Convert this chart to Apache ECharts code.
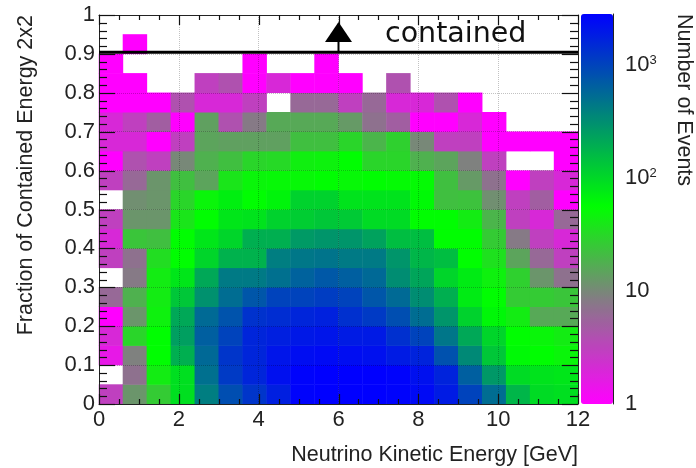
<!DOCTYPE html>
<html><head><meta charset="utf-8">
<style>html,body{margin:0;padding:0;background:#fff}#c{width:696px;height:468px}</style>
<script src="https://cdn.jsdelivr.net/npm/echarts@6/dist/echarts.min.js"></script>
</head><body><div id="c"></div>
<script>
const xBinWidth = 0.6, yBinWidth = 0.05;
// Event counts per x bin (20 bins of 0.6 GeV); 0 = empty. One row per fraction bin.
const row_00 = [3,12,26,90,400,850,1250,1750,2700,2800,2800,2800,2700,2400,1850,1000,520,170,95,90];
const row_05 = [0,7,42,90,500,1150,1600,2200,2700,2800,2800,2800,2700,2200,1650,650,270,95,85,80];
const row_10 = [1.5,9,55,190,560,1250,1600,2050,2300,2400,2300,2200,1850,1650,800,340,130,60,55,48];
const row_15 = [2,30,55,240,650,1000,1600,1750,1950,2050,1850,1900,1350,1000,460,210,105,55,48,42];
const row_20 = [1,12,45,210,550,780,1300,1400,1600,1700,1350,1150,850,520,280,110,62,42,16,16];
const row_25 = [6,18,42,130,300,520,750,1000,1000,1100,1000,750,550,320,190,75,55,26,26,24];
const row_30 = [0,8,42,80,210,430,430,500,620,720,650,560,320,220,105,75,45,28,12,7];
const row_35 = [3,7,34,55,105,180,180,400,450,470,430,430,280,170,150,55,36,15,6,3];
const row_40 = [2,24,22,55,80,105,190,190,260,280,280,230,150,150,55,55,26,8,3,2];
const row_45 = [3,12,12,38,55,80,85,110,120,130,125,95,95,55,55,42,19,3,2,6];
const row_50 = [0,11,12,30,48,70,55,65,110,110,85,85,85,60,22,23,11,3,5,1];
const row_55 = [3,6,12,22,15,38,48,50,50,55,50,55,52,52,22,13,7,1,3,2];
const row_60 = [1,4,3,10,18,22,30,32,44,46,55,30,30,18,15,9,3,0,0,1];
const row_65 = [2,2,1,3,15,14,14,14,22,22,30,19,28,10,3,3,1,1,1,1];
const row_70 = [2,3,5,1,14,4,8,16,16,16,13,7,5,1,1,2,1,0,0,0];
const row_75 = [1,1,1,4,2,2,3,0,6,6,3,6,2,2,4,1,0,0,0,0];
const row_80 = [1,1,0,0,3,4,1,2,1,1,1,0,4,0,0,0,0,0,0,0];
const row_85 = [1,0,0,0,0,0,1,0,0,1,0,0,0,0,0,0,0,0,0,0];
const row_90 = [0,1,0,0,0,0,0,0,0,0,0,0,0,0,0,0,0,0,0,0];
const row_95 = [0,0,0,0,0,0,0,0,0,0,0,0,0,0,0,0,0,0,0,0];
const rows = [row_00,row_05,row_10,row_15,row_20,row_25,row_30,row_35,row_40,row_45,row_50,row_55,row_60,row_65,row_70,row_75,row_80,row_85,row_90,row_95];
const colorMaxCount = 2800;
const stopLogs = [0, 0.95, 1.74, 3.45];
const stopRGB = [[255,0,255],[128,128,128],[0,255,0],[0,0,255]];
const containedCut = 0.904;
const arrowX = 6;
const arrowTip = 0.956;
const colorbarMajor = [1,10,100,1000];
const colorbarMinor = [2,3,4,5,6,7,8,9,20,30,40,50,60,70,80,90,200,300,400,500,600,700,800,900,2000];

const logMax = Math.log10(colorMaxCount);
function rampColor(v){
  let i = 0;
  while (i < stopLogs.length - 2 && v > stopLogs[i+1]) i++;
  const t = Math.min(1, (v - stopLogs[i]) / (stopLogs[i+1] - stopLogs[i]));
  const c = stopRGB[i].map((a,k) => Math.round(a + (stopRGB[i+1][k] - a) * t));
  return `rgb(${c[0]},${c[1]},${c[2]})`;
}
const ramp = [];
for (let i = 0; i <= 69; i++) ramp.push(rampColor(logMax * i / 69));

const xCats = row_00.map((_, i) => ((i + 0.5) * xBinWidth).toFixed(1));
const yCats = rows.map((_, i) => ((i + 0.5) * yBinWidth).toFixed(3));
const cells = [];
rows.forEach((r, j) => r.forEach((n, i) => { if (n > 0) cells.push([i, j, n, Math.log10(n)]); }));

// Inward tick marks on all four sides, placed through the axes' own scales.
const xTickData = [], yTickData = [];
for (let i = 0; i <= 24; i++) xTickData.push([i * 0.5, 0, i % 4 === 0 ? 10 : 5]);
for (let i = 0; i <= 50; i++) yTickData.push([0, i * 0.02, i % 5 === 0 ? 16 : 8]);
const barTickData = colorbarMajor.map(v => [1, v, 16]).concat(colorbarMinor.map(v => [1, v, 8]));
const tickStyle = {stroke: '#111', lineWidth: 1.2};
const snap = p => Math.round(p) + 0.5;
function tickLine(x1, y1, x2, y2){ return {type: 'line', shape: {x1, y1, x2, y2}, style: tickStyle, silent: true}; }
function renderXTick(params, api){
  if (typeof api.coord !== 'function') return null;
  const x = api.value(0), len = api.value(2);
  const b = api.coord([x, 0]), t = api.coord([x, 1]), px = snap(b[0]);
  return {type: 'group', children: [tickLine(px, b[1], px, b[1] - len), tickLine(px, t[1], px, t[1] + len)]};
}
function renderYTick(params, api){
  if (typeof api.coord !== 'function') return null;
  const y = api.value(1), len = api.value(2);
  const l = api.coord([0, y]), r = api.coord([12, y]), py = snap(l[1]);
  return {type: 'group', children: [tickLine(l[0], py, l[0] + len, py), tickLine(r[0], py, r[0] - len, py)]};
}
function renderBarTick(params, api){
  if (typeof api.coord !== 'function') return null;
  const p = api.coord([1, api.value(1)]), py = snap(p[1]);
  return tickLine(p[0], py, p[0] - api.value(2), py);
}

const F = 'Liberation Sans';
const G = {left: 99, top: 15, width: 479, height: 389, outerBoundsMode: 'none'};
const frame = {show: true, onZero: false, lineStyle: {color: '#222', width: 1}};
const grid = {show: true, lineStyle: {color: 'rgba(0,0,0,0.24)', type: 'dotted', width: 1}};

const chart = echarts.init(document.getElementById('c'), null, {renderer: 'canvas'});
chart.setOption({
  animation: false,
  backgroundColor: '#fff',
  grid: [Object.assign({}, G), Object.assign({}, G), {left: 581, top: 14, width: 32, height: 390, outerBoundsMode: 'none'}],
  xAxis: [
    {type: 'category', gridIndex: 0, data: xCats, show: false},
    {type: 'value', gridIndex: 1, min: 0, max: 12, interval: 2, z: 10, position: 'bottom',
     axisLine: frame, axisTick: {show: false}, splitLine: grid,
     axisLabel: {fontFamily: F, fontSize: 22, color: '#222', margin: 5},
     name: 'Neutrino Kinetic Energy [GeV]', nameLocation: 'end', nameGap: 0,
     nameTextStyle: {fontFamily: F, fontSize: 21.5, color: '#222', align: 'right', verticalAlign: 'top', padding: [40, 0, 0, 0]}},
    {type: 'value', gridIndex: 1, min: 0, max: 12, interval: 2, z: 10, position: 'top',
     axisLine: frame, axisTick: {show: false}, splitLine: {show: false}, axisLabel: {show: false}},
    {type: 'value', gridIndex: 2, min: 0, max: 1, show: false}
  ],
  yAxis: [
    {type: 'category', gridIndex: 0, data: yCats, show: false},
    {type: 'value', gridIndex: 1, min: 0, max: 1, interval: 0.1, z: 10, position: 'left',
     axisLine: frame, axisTick: {show: false}, splitLine: grid,
     axisLabel: {fontFamily: F, fontSize: 22, color: '#222', margin: 4},
     name: 'Fraction of Contained Energy 2x2', nameLocation: 'end', nameGap: 0, nameRotate: 90,
     nameTextStyle: {fontFamily: F, fontSize: 21.5, color: '#222', align: 'right', verticalAlign: 'bottom', padding: [0, 0, 62, 0]}},
    {type: 'value', gridIndex: 1, min: 0, max: 1, interval: 0.1, z: 10, position: 'right',
     axisLine: frame, axisTick: {show: false}, splitLine: {show: false}, axisLabel: {show: false}},
    {type: 'log', gridIndex: 2, logBase: 10, min: 1, max: colorMaxCount, z: 10, position: 'right',
     axisLine: frame, axisTick: {show: false}, splitLine: {show: false},
     axisLabel: {margin: 12, showMaxLabel: false, color: '#222', fontFamily: F, fontSize: 22,
       formatter: v => { const e = Math.round(Math.log10(v)); return e <= 1 ? String(v) : '10{s|' + e + '}'; },
       rich: {s: {fontFamily: F, fontSize: 13, color: '#222', verticalAlign: 'top', padding: [0, 0, 8, 0]}}},
     name: 'Number of Events', nameLocation: 'end', nameGap: 0, nameRotate: -90,
     nameTextStyle: {fontFamily: F, fontSize: 21.5, color: '#222', align: 'left', verticalAlign: 'bottom', padding: [0, 0, 60, 0]}}
  ],
  visualMap: {
    type: 'continuous', seriesIndex: 0, dimension: 3, min: 0, max: logMax,
    inRange: {color: ramp}, calculable: false, hoverLink: false, realtime: false,
    left: 581, top: 14, padding: 0, itemWidth: 32, itemHeight: 390, orient: 'vertical', text: null
  },
  series: [
    {type: 'heatmap', xAxisIndex: 0, yAxisIndex: 0, data: cells, progressive: 0, z: 2},
    {type: 'line', xAxisIndex: 1, yAxisIndex: 1, data: [[0, containedCut], [12, containedCut]], symbol: 'none', z: 20, lineStyle: {color: '#000', width: 3}},
    {type: 'line', xAxisIndex: 1, yAxisIndex: 1, data: [[arrowX, containedCut], [arrowX, arrowTip]], symbol: 'none', z: 20, lineStyle: {color: '#000', width: 2}},
    {type: 'scatter', xAxisIndex: 1, yAxisIndex: 1, data: [[arrowX, arrowTip]], symbol: 'triangle', symbolSize: [27, 20], z: 21, itemStyle: {color: '#000', opacity: 1}},
    {type: 'custom', coordinateSystem: 'cartesian2d', xAxisIndex: 1, yAxisIndex: 1, encode: {x: 0, y: 1}, data: xTickData, renderItem: renderXTick, z: 15, silent: true},
    {type: 'custom', coordinateSystem: 'cartesian2d', xAxisIndex: 1, yAxisIndex: 1, encode: {x: 0, y: 1}, data: yTickData, renderItem: renderYTick, z: 15, silent: true},
    {type: 'custom', coordinateSystem: 'cartesian2d', xAxisIndex: 2, yAxisIndex: 3, encode: {x: 0, y: 1}, data: barTickData, renderItem: renderBarTick, z: 15, silent: true}
  ],
  graphic: [{type: 'text', z: 30, left: 385, top: 20, style: {text: 'contained', fontFamily: 'DejaVu Sans', fontSize: 28.5, fill: '#111'}}]
});
</script></body></html>
